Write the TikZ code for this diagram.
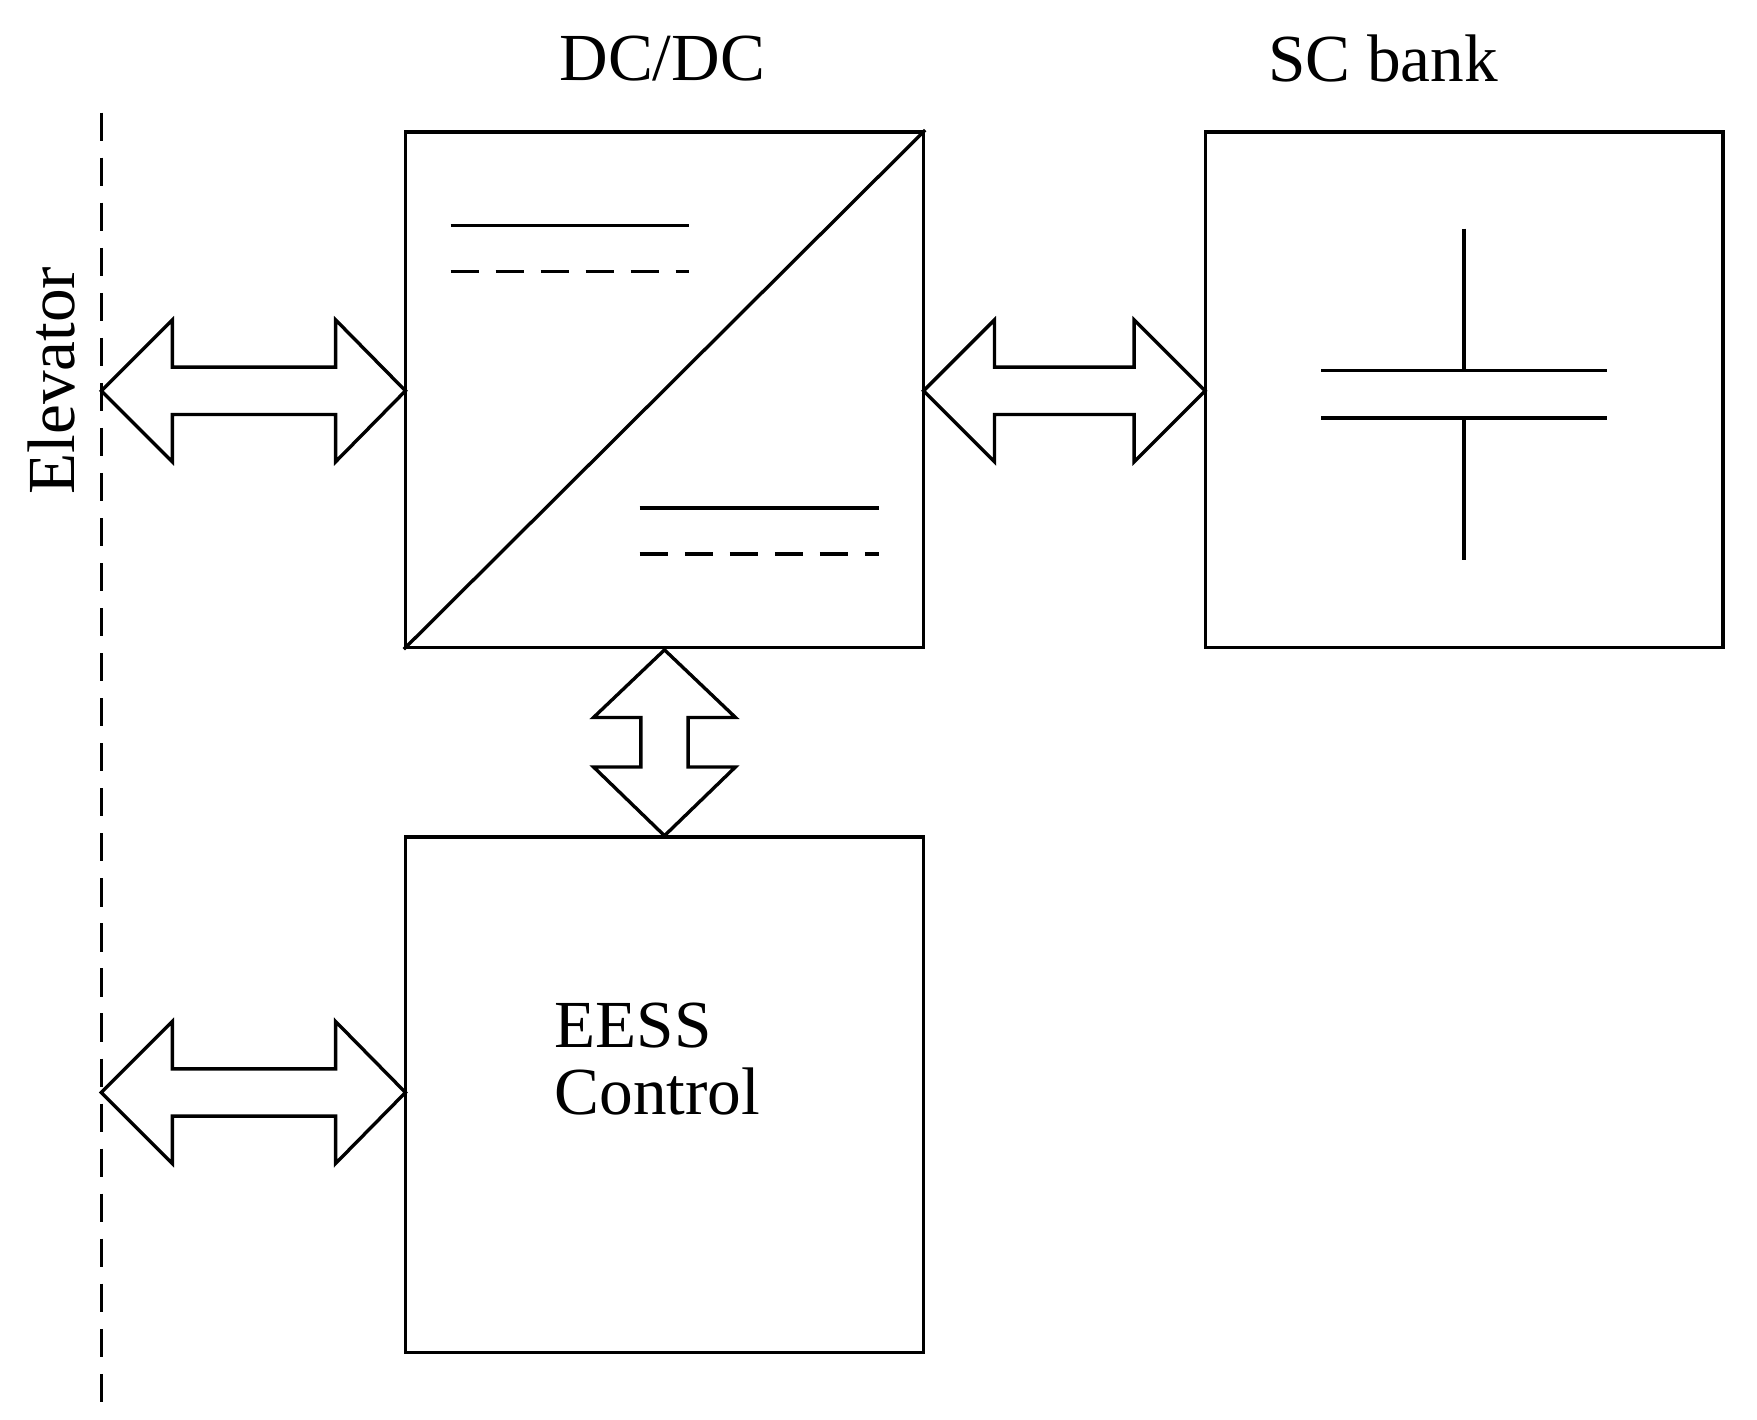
\documentclass[tikz,border=0pt]{standalone}
\usepackage{fontspec}
\setmainfont{Liberation Serif}
\begin{document}
\begin{tikzpicture}[x=0.02cm,y=-0.02cm,line width=1.7pt,
  box/.style={draw,minimum width=9.2cm,minimum height=9.16cm,inner sep=0pt,line width=1.7pt},
  lbl/.style={font=\fontsize{34}{40}\selectfont},
  dsh/.style={dash pattern=on 0.5cm off 0.3cm}]
\useasboundingbox (0,0) rectangle (1560,1260);
\node[box] (dc) at (590,346) {};
\node[box] (sc) at (1300,346) {};
\node[box] (ctl) at (590,972) {};
\node[lbl] (dcl) at (588,52) {DC/DC};
\node[lbl] (scl) at (1228,52) {SC bank};
\node[lbl,align=left,anchor=west] (ctlt) at (485,940) {EESS\\[-6pt]Control};
\node[lbl,rotate=90] (el) at (46,338) {Elevator};
\draw[dsh] (90,100) -- (90,1250);
% DC/DC symbol
\draw (dc.south west) -- (dc.north east);
\draw (400,200) -- (612,200);
\draw[dsh] (400,241) -- (612,241);
\draw (568,451) -- (780,451);
\draw[dsh] (568,492) -- (780,492);
% capacitor
\draw (1300,203) -- (1300,329) (1173,329) -- (1427,329)
      (1173,371) -- (1427,371) (1300,371) -- (1300,497);
% double arrows
\draw[line join=miter] (90,347) -- (153,284) -- (153,326) -- (298,326) -- (298,284) -- (360,347)
  -- (298,410) -- (298,368) -- (153,368) -- (153,410) -- cycle;
\draw[line join=miter] (90,970) -- (153,907) -- (153,949) -- (298,949) -- (298,907) -- (360,970)
  -- (298,1033) -- (298,991) -- (153,991) -- (153,1033) -- cycle;
\draw[line join=miter] (820,347) -- (883,284) -- (883,326) -- (1007,326) -- (1007,284) -- (1070,347)
  -- (1007,410) -- (1007,368) -- (883,368) -- (883,410) -- cycle;
\draw[line join=miter] (590,577) -- (653,637) -- (611,637) -- (611,681) -- (653,681) -- (590,742)
  -- (527,681) -- (569,681) -- (569,637) -- (527,637) -- cycle;
\end{tikzpicture}
\end{document}
